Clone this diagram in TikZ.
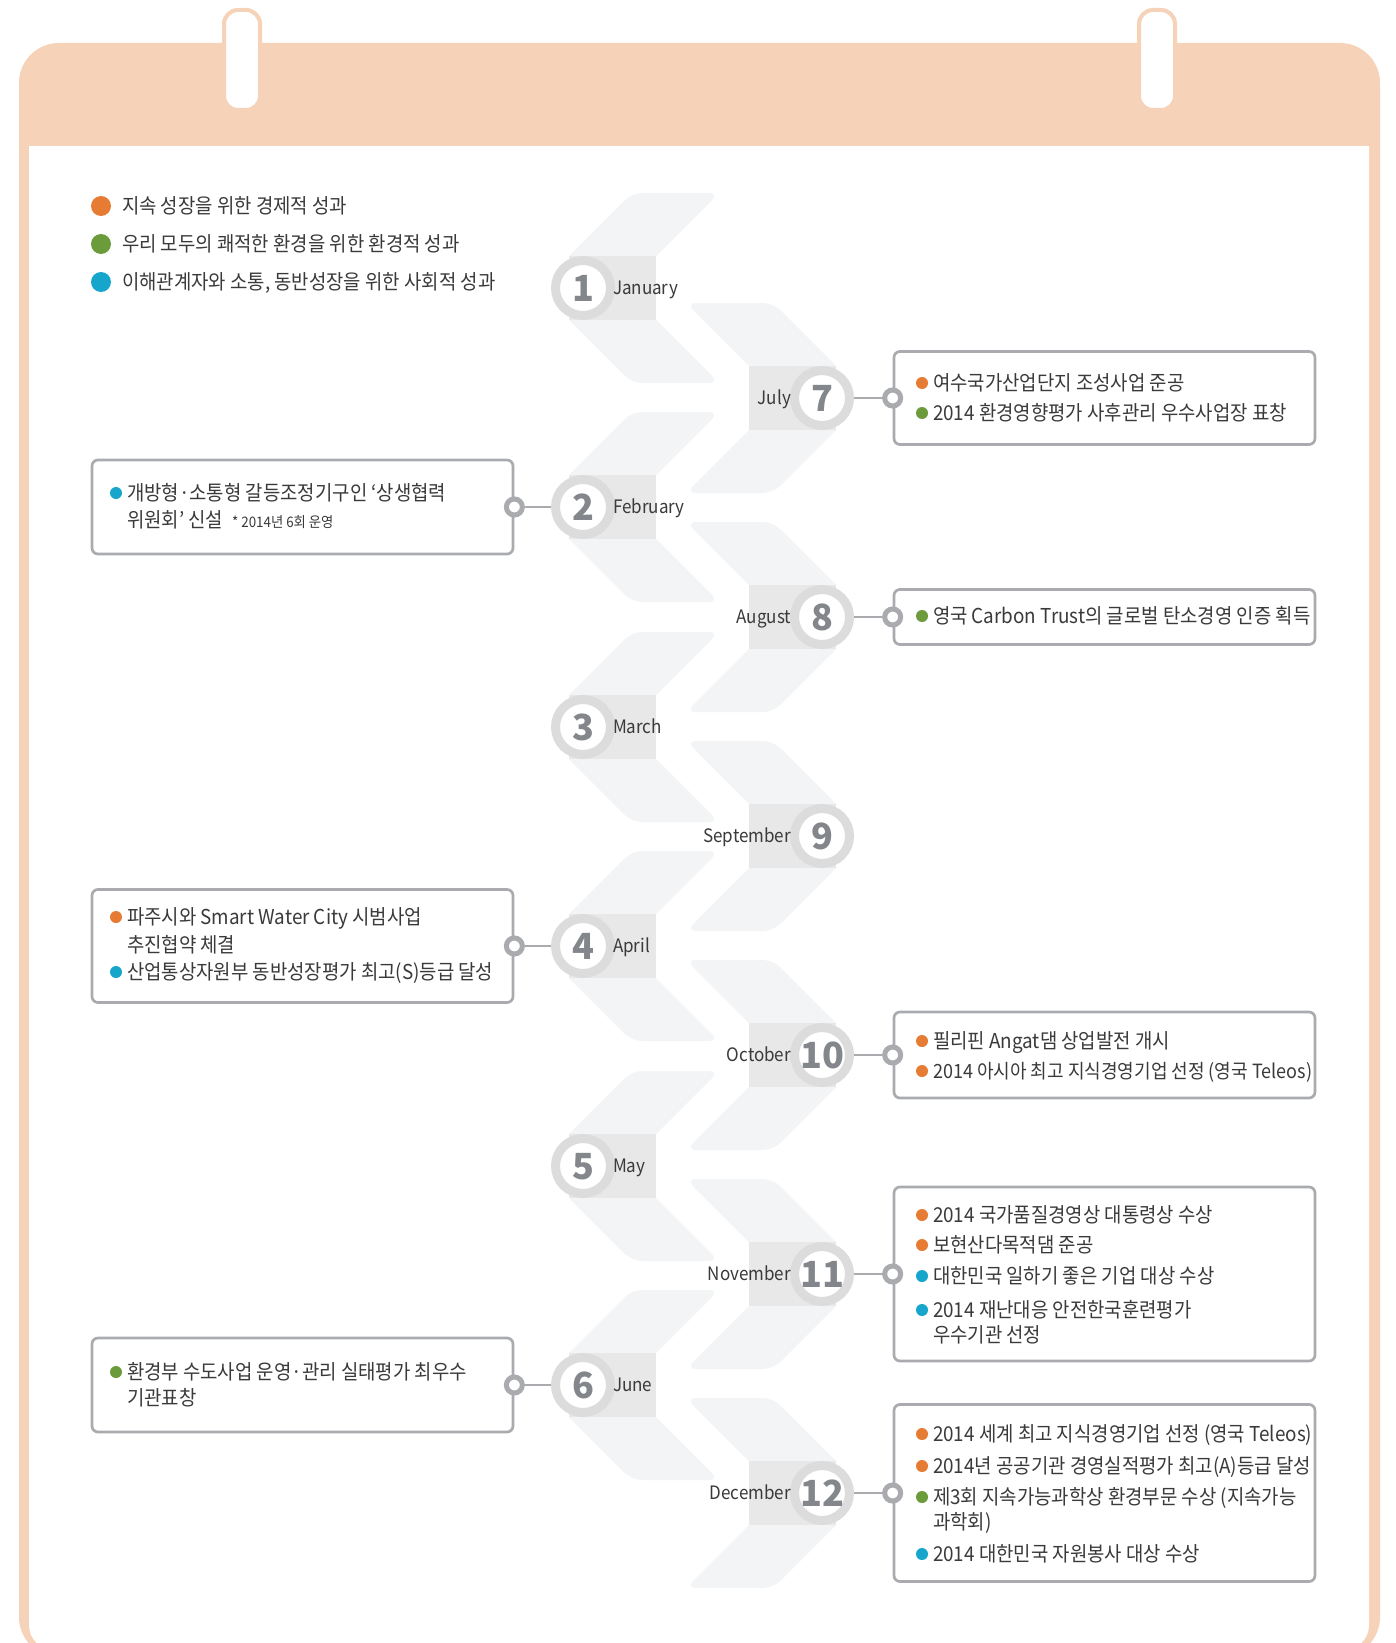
\documentclass[tikz,border=0pt]{standalone}
\usepackage{fontspec}
\newfontfamily\kr[FakeStretch=0.92]{Noto Sans CJK KR}
\newfontfamily\krnum{Noto Sans CJK KR}
\definecolor{peach}{HTML}{F6D2B8}
\definecolor{armcol}{HTML}{F3F4F5}
\definecolor{bandcol}{HTML}{E8E8E9}
\definecolor{ringc}{HTML}{DCDCDD}
\definecolor{numc}{HTML}{83868B}
\definecolor{linec}{HTML}{A9ABAE}
\definecolor{txtc}{HTML}{3A3A3A}
\definecolor{orc}{HTML}{E67C34}
\definecolor{grc}{HTML}{6B9B3A}
\definecolor{blc}{HTML}{16A6CC}
\tikzset{
  txt/.style={anchor=west, inner sep=0pt, outer sep=0pt, text=txtc, font=\kr\fontsize{20.5pt}{24pt}\selectfont, text height=16.5pt, text depth=1.5pt},
  monthst/.style={inner sep=0pt, outer sep=0pt, text=txtc, font=\kr\fontsize{18.5pt}{22pt}\selectfont, text height=13.5pt, text depth=1pt},
  numst/.style={inner sep=0pt, text=numc, font=\krnum\bfseries\fontsize{36pt}{40pt}\selectfont, text height=26pt, text depth=0pt},
  ring/.style={circle, draw=ringc, line width=9pt, fill=white, minimum size=55pt, inner sep=0pt},
  evbox/.style={draw=linec, line width=2.7pt, rounded corners=6pt, fill=white, minimum width=421pt, inner sep=0pt},
  conn/.style={draw=linec, line width=2.7pt},
  dotc/.style={circle, draw=linec, line width=5pt, fill=white, minimum size=16pt, inner sep=0pt},
}
\begin{document}
\begin{tikzpicture}[x=1pt,y=-1pt]
\useasboundingbox (0,0) rectangle (1395,1643);
\clip (0,0) rectangle (1395,1643);
\fill[white] (0,0) rectangle (1395,1643);
% calendar body
\fill[peach, rounded corners=40pt] (19,43) rectangle (1380,1657);
\fill[white, rounded corners=25pt] (29,116) rectangle (1369,1650);
\fill[peach] (25,100) rectangle (1375,146);
% rings
\draw[peach, line width=4pt, fill=white, rounded corners=14pt] (224,10) rectangle (260,110);
\draw[peach, line width=4pt, fill=white, rounded corners=14pt] (1139,10) rectangle (1175,110);
% legend
\fill[orc] (101,206) circle (10);
\fill[grc] (101,244) circle (10);
\fill[blc] (101,282) circle (10);
\node[txt] (lg1) at (122,206) {지속 성장을 위한 경제적 성과};
\node[txt] (lg2) at (122,244) {우리 모두의 쾌적한 환경을 위한 환경적 성과};
\node[txt] (lg3) at (122,282) {이해관계자와 소통, 동반성장을 위한 사회적 성과};
% chevrons
\foreach \cy in {288,507,727,946,1166,1385} {
  \fill[armcol] (569,\cy-32) [rounded corners=10pt] -- (632,\cy-95) -- (719,\cy-95) [sharp corners] -- (656,\cy-32) -- cycle;
  \fill[armcol] (569,\cy+32) [rounded corners=10pt] -- (632,\cy+95) -- (719,\cy+95) [sharp corners] -- (656,\cy+32) -- cycle;
  \fill[bandcol] (569,\cy-32) rectangle (656,\cy+32);
}
\foreach \cy in {398,617,836,1055,1274,1493} {
  \fill[armcol] (836,\cy-32) [rounded corners=10pt] -- (773,\cy-95) -- (686,\cy-95) [sharp corners] -- (749,\cy-32) -- cycle;
  \fill[armcol] (836,\cy+32) [rounded corners=10pt] -- (773,\cy+95) -- (686,\cy+95) [sharp corners] -- (749,\cy+32) -- cycle;
  \fill[bandcol] (749,\cy-32) rectangle (836,\cy+32);
}
% month rings
\node[ring] (m1) at (583,288) {};
\node[ring] (m2) at (583,507) {};
\node[ring] (m3) at (583,727) {};
\node[ring] (m4) at (583,946) {};
\node[ring] (m5) at (583,1166) {};
\node[ring] (m6) at (583,1385) {};
\node[ring] (m7) at (822,398) {};
\node[ring] (m8) at (822,617) {};
\node[ring] (m9) at (822,836) {};
\node[ring] (m10) at (822,1055) {};
\node[ring] (m11) at (822,1274) {};
\node[ring] (m12) at (822,1493) {};
\foreach \i in {1,...,12} { \node[numst] (t\i) at (m\i.center) {\i}; }
\node[monthst, anchor=west] (l1) at ([xshift=-2pt]m1.east) {January};
\node[monthst, anchor=west] (l2) at ([xshift=-2pt]m2.east) {February};
\node[monthst, anchor=west] (l3) at ([xshift=-2pt]m3.east) {March};
\node[monthst, anchor=west] (l4) at ([xshift=-2pt]m4.east) {April};
\node[monthst, anchor=west] (l5) at ([xshift=-2pt]m5.east) {May};
\node[monthst, anchor=west] (l6) at ([xshift=-2pt]m6.east) {June};
\node[monthst, anchor=east] (l7) at ([xshift=1pt]m7.west) {July};
\node[monthst, anchor=east] (l8) at ([xshift=1pt]m8.west) {August};
\node[monthst, anchor=east] (l9) at ([xshift=1pt]m9.west) {September};
\node[monthst, anchor=east] (l10) at ([xshift=1pt]m10.west) {October};
\node[monthst, anchor=east] (l11) at ([xshift=1pt]m11.west) {November};
\node[monthst, anchor=east] (l12) at ([xshift=1pt]m12.west) {December};
% boxes
\node[evbox, minimum height=94pt] (b2) at (302.5,507) {};
\node[evbox, minimum height=113pt] (b4) at (302.5,946) {};
\node[evbox, minimum height=94pt] (b6) at (302.5,1385) {};
\node[evbox, minimum height=93pt] (b7) at (1104.5,398) {};
\node[evbox, minimum height=55pt] (b8) at (1104.5,617) {};
\node[evbox, minimum height=86pt] (b10) at (1104.5,1055) {};
\node[evbox, minimum height=174pt] (b11) at (1104.5,1274) {};
\node[evbox, minimum height=177pt] (b12) at (1104.5,1493) {};
% connectors
\draw[conn] (b2.east) -- (m2.west);
\draw[conn] (b4.east) -- (m4.west);
\draw[conn] (b6.east) -- (m6.west);
\draw[conn] (m7.east) -- (b7.west);
\draw[conn] (m8.east) -- (b8.west);
\draw[conn] (m10.east) -- (b10.west);
\draw[conn] (m11.east) -- (b11.west);
\draw[conn] (m12.east) -- (b12.west);
\node[dotc] (c2) at (b2.east) {};
\node[dotc] (c4) at (b4.east) {};
\node[dotc] (c6) at (b6.east) {};
\node[dotc] (c7) at (b7.west) {};
\node[dotc] (c8) at (b8.west) {};
\node[dotc] (c10) at (b10.west) {};
\node[dotc] (c11) at (b11.west) {};
\node[dotc] (c12) at (b12.west) {};
% box 2
\fill[blc] (116,493) circle (6);
\node[txt] (x2a) at (127,493) {개방형·소통형 갈등조정기구인 ‘상생협력};
\node[txt] (x2b) at (127,520) {위원회’ 신설\hspace{9pt}{\fontsize{14.5pt}{18pt}\selectfont * 2014년 6회 운영}};
% box 4
\fill[orc] (116,917) circle (6);
\node[txt] (x4a) at (127,917) {파주시와 Smart Water City 시범사업};
\node[txt] (x4b) at (127,945) {추진협약 체결};
\fill[blc] (116,972) circle (6);
\node[txt] (x4c) at (127,972) {산업통상자원부 동반성장평가 최고(S)등급 달성};
% box 6
\fill[grc] (116,1372) circle (6);
\node[txt] (x6a) at (127,1372) {환경부 수도사업 운영·관리 실태평가 최우수};
\node[txt] (x6b) at (127,1398) {기관표창};
% box 7
\fill[orc] (922,383) circle (6);
\node[txt] (x7a) at (933,383) {여수국가산업단지 조성사업 준공};
\fill[grc] (922,413) circle (6);
\node[txt] (x7b) at (933,413) {2014 환경영향평가 사후관리 우수사업장 표창};
% box 8
\fill[grc] (922,616) circle (6);
\node[txt] (x8a) at (933,616) {영국 Carbon Trust의 글로벌 탄소경영 인증 획득};
% box 10
\fill[orc] (922,1041) circle (6);
\node[txt] (x10a) at (933,1041) {필리핀 Angat댐 상업발전 개시};
\fill[orc] (922,1071) circle (6);
\node[txt, font=\kr\fontsize{19.6pt}{24pt}\selectfont] (x10b) at (933,1071) {2014 아시아 최고 지식경영기업 선정 (영국 Teleos)};
% box 11
\fill[orc] (922,1215) circle (6);
\node[txt] (x11a) at (933,1215) {2014 국가품질경영상 대통령상 수상};
\fill[orc] (922,1245) circle (6);
\node[txt] (x11b) at (933,1245) {보현산다목적댐 준공};
\fill[blc] (922,1276) circle (6);
\node[txt] (x11c) at (933,1276) {대한민국 일하기 좋은 기업 대상 수상};
\fill[blc] (922,1310) circle (6);
\node[txt] (x11d) at (933,1310) {2014 재난대응 안전한국훈련평가};
\node[txt] (x11e) at (933,1335) {우수기관 선정};
% box 12
\fill[orc] (922,1434) circle (6);
\node[txt] (x12a) at (933,1434) {2014 세계 최고 지식경영기업 선정 (영국 Teleos)};
\fill[orc] (922,1466) circle (6);
\node[txt] (x12b) at (933,1466) {2014년 공공기관 경영실적평가 최고(A)등급 달성};
\fill[grc] (922,1497) circle (6);
\node[txt] (x12c) at (933,1497) {제3회 지속가능과학상 환경부문 수상 (지속가능};
\node[txt] (x12d) at (933,1522) {과학회)};
\fill[blc] (922,1554) circle (6);
\node[txt] (x12e) at (933,1554) {2014 대한민국 자원봉사 대상 수상};
\end{tikzpicture}
\end{document}
